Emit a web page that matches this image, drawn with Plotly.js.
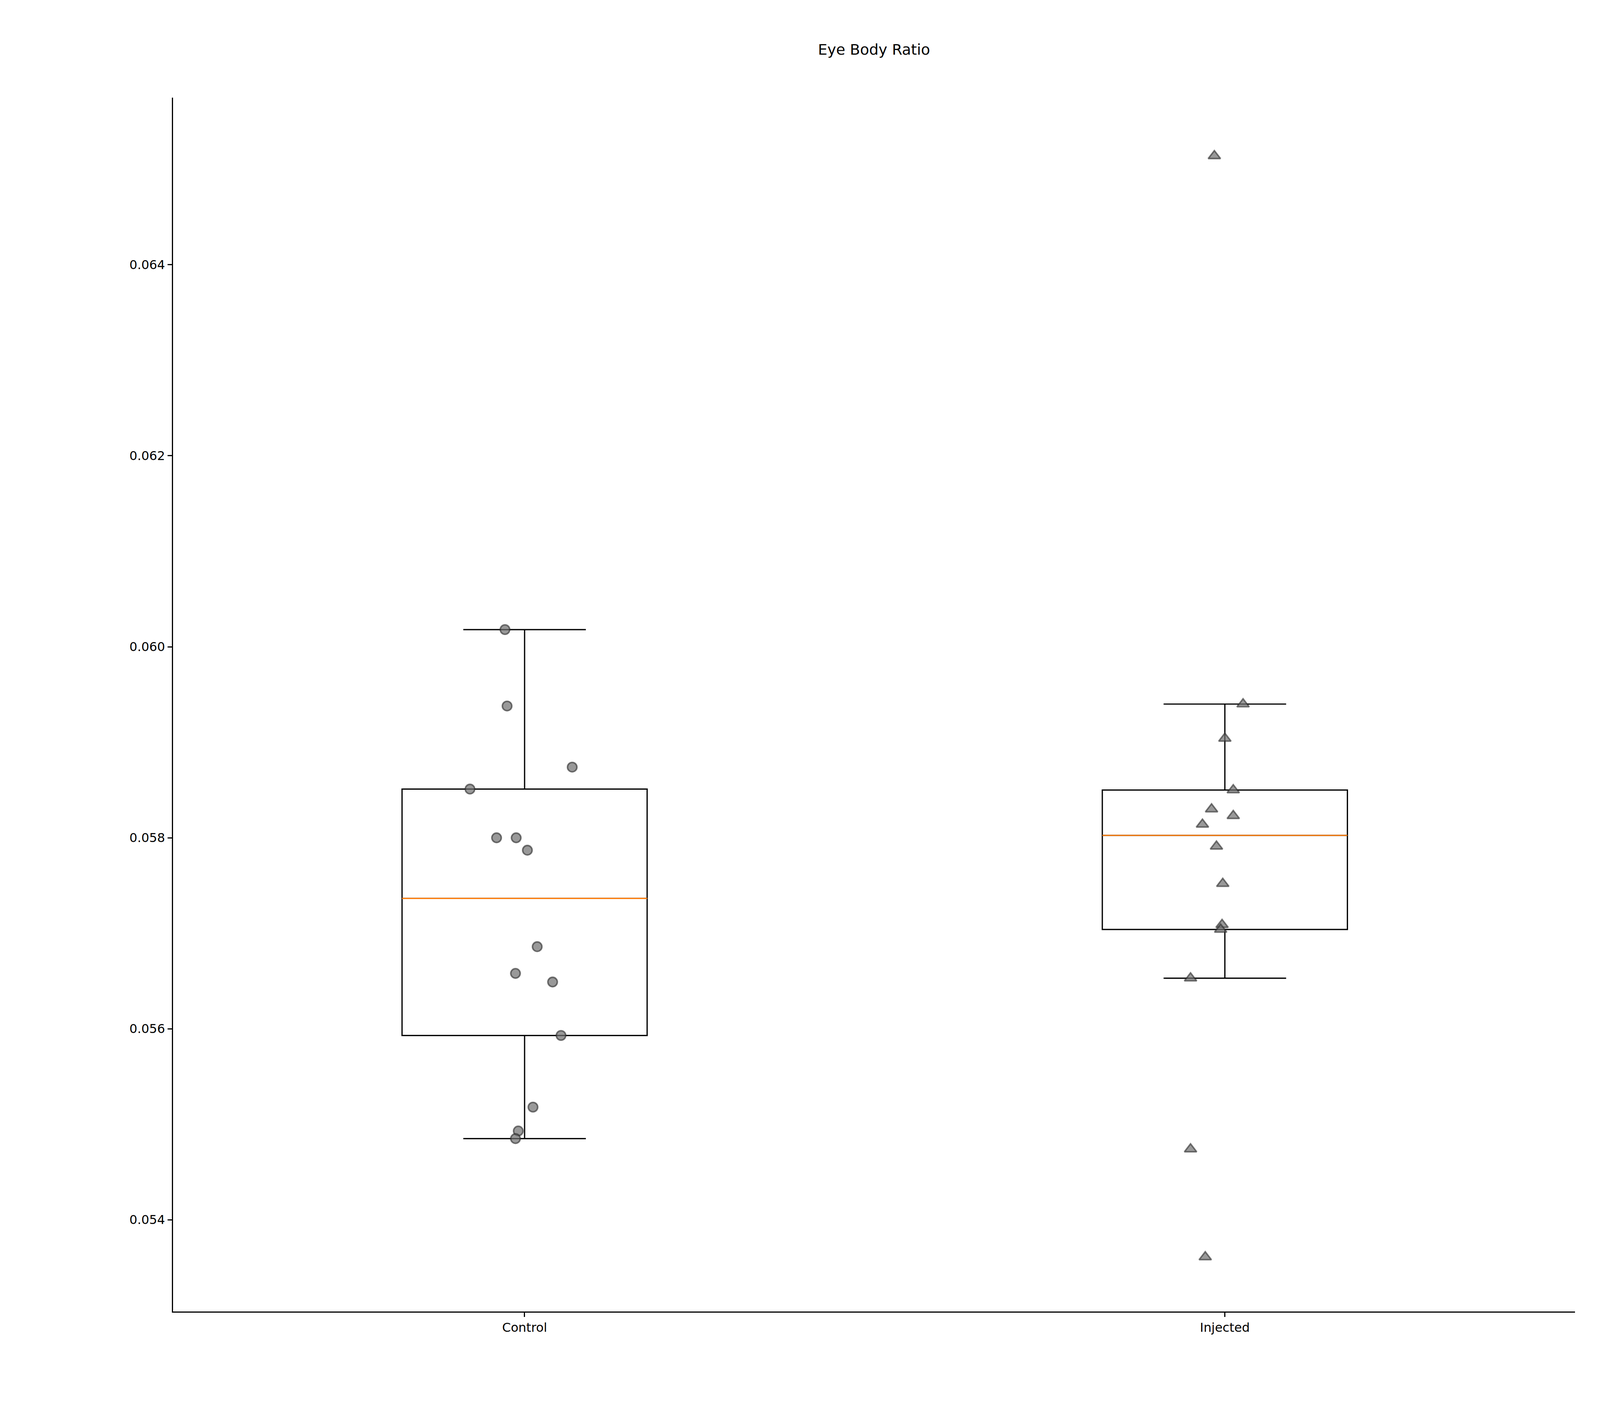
<!DOCTYPE html>
<html>
<head>
<meta charset="utf-8">
<script src="https://cdn.plot.ly/plotly-3.0.1.min.js"></script>
<style>html,body{margin:0;padding:0;background:#fff;overflow:hidden}</style>
</head>
<body>
<div id="chart"></div>
<script>
const groups = ['Control', 'Injected'];

const controlValues = [0.06018, 0.05938, 0.05874, 0.05851, 0.05800, 0.05800, 0.05787,
   0.05686, 0.05658, 0.05649, 0.05593, 0.05518, 0.05493, 0.05485];
const controlJitter = [-0.028, -0.025, 0.068, -0.078, -0.040, -0.012, 0.004,
   0.018, -0.013, 0.040, 0.052, 0.012, -0.009, -0.013];

const injectedValues = [0.06514, 0.05940, 0.05904, 0.05850, 0.05830, 0.05823, 0.05814,
   0.05791, 0.05752, 0.05709, 0.05704, 0.05653, 0.05474, 0.05361];
const injectedJitter = [-0.015, 0.026, 0.0, 0.012, -0.019, 0.012, -0.032,
   -0.012, -0.003, -0.004, -0.006, -0.049, -0.049, -0.028];

const boxWidth = 0.35;

// scale everything to the real window size (design is for 5400 px wide)
const W = window.innerWidth, H = window.innerHeight;
const k = W / 5400;

function median(arr) {
   const s = [...arr].sort((a, b) => a - b);
   const m = Math.floor(s.length / 2);
   return s.length % 2 ? s[m] : (s[m - 1] + s[m]) / 2;
}

function boxTrace(values, pos) {
   return {
      type: 'box', y: values, x0: pos, width: boxWidth,
      boxpoints: 'outliers', quartilemethod: 'inclusive',
      marker: {opacity: 0, size: 1},
      whiskerwidth: 0.5, fillcolor: 'rgba(255,255,255,0)',
      line: {color: 'black', width: 4.2 * k}, showlegend: false, hoverinfo: 'skip'
   };
}

function medianTrace(values, pos) {
   const m = median(values);
   return {
      type: 'scatter', mode: 'lines', x: [pos - boxWidth / 2, pos + boxWidth / 2], y: [m, m],
      line: {color: '#ff7f0e', width: 4.2 * k}, showlegend: false, hoverinfo: 'skip'
   };
}

function pointsTrace(values, jitter, pos, symbol, size) {
   return {
      type: 'scatter', mode: 'markers',
      x: jitter.map(j => pos + j), y: values,
      marker: {symbol: symbol, size: size * k, color: 'rgba(110,110,110,0.7)',
         line: {color: 'rgba(40,40,40,0.6)', width: 5 * k}},
      showlegend: false
   };
}

const data = [
   boxTrace(controlValues, 0),
   boxTrace(injectedValues, 1),
   medianTrace(controlValues, 0),
   medianTrace(injectedValues, 1),
   pointsTrace(controlValues, controlJitter, 0, 'circle', 32),
   pointsTrace(injectedValues, injectedJitter, 1, 'triangle-up', 36)
];

const font = {family: 'DejaVu Sans', size: 42 * k, color: 'black'};

const layout = {
   width: W, height: H,
   paper_bgcolor: 'white', plot_bgcolor: 'white',
   margin: {l: 584 * k, r: 84 * k, t: 330 * k, b: 319 * k},
   font: font,
   title: {text: 'Eye Body Ratio', font: {family: 'DejaVu Sans', size: 50 * k, color: 'black'},
      x: 0.5, xref: 'paper', y: 1, yref: 'container', yanchor: 'top', pad: {t: 150 * k}},
   xaxis: {
      range: [-0.502, 1.5], tickvals: [0, 1], ticktext: groups,
      showgrid: false, zeroline: false, showline: true, linecolor: 'black', linewidth: 3.3 * k,
      ticks: 'outside', ticklen: 15 * k, tickwidth: 3.3 * k, tickcolor: 'black', tickfont: font
   },
   yaxis: {
      range: [0.05304, 0.06575], tickvals: [0.054, 0.056, 0.058, 0.060, 0.062, 0.064],
      tickformat: '.3f',
      showgrid: false, zeroline: false, showline: true, linecolor: 'black', linewidth: 3.3 * k,
      ticks: 'outside', ticklen: 15 * k, tickwidth: 3.3 * k, tickcolor: 'black', tickfont: font
   }
};

Plotly.newPlot('chart', data, layout, {displayModeBar: false});
</script>
</body>
</html>
